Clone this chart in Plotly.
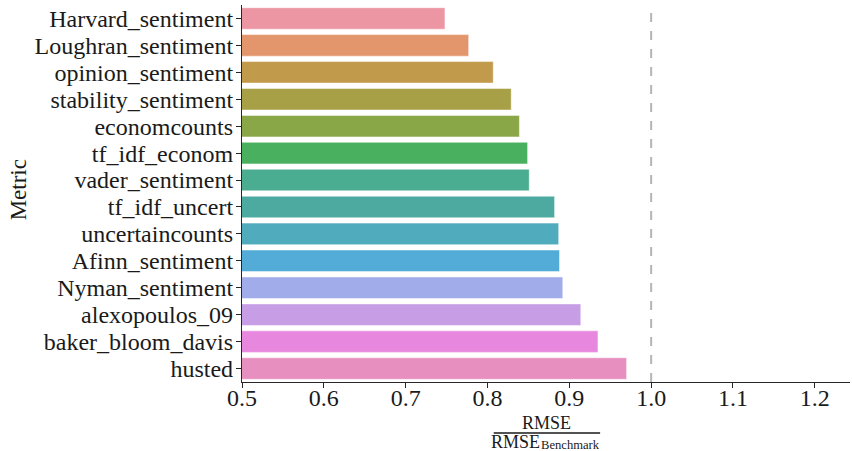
import plotly.graph_objects as go

metrics = ["Harvard_sentiment", "Loughran_sentiment", "opinion_sentiment", "stability_sentiment",
           "economcounts", "tf_idf_econom", "vader_sentiment", "tf_idf_uncert", "uncertaincounts",
           "Afinn_sentiment", "Nyman_sentiment", "alexopoulos_09", "baker_bloom_davis", "husted"]
rmse_ratio = [0.748, 0.777, 0.807, 0.829, 0.839, 0.849, 0.851, 0.882, 0.887, 0.888, 0.892, 0.914, 0.935, 0.970]
colors = ["#EC96A4", "#E3956C", "#C19A4B", "#A7A046", "#8AA748", "#48B05E", "#4AAD91", "#4CAAA0",
          "#50ABBC", "#53ABD7", "#A1ACEA", "#C79EE6", "#E788DE", "#E78FBE"]
x_ticks = [0.5, 0.6, 0.7, 0.8, 0.9, 1.0, 1.1, 1.2]
benchmark = 1.0

FONT = "Liberation Serif"
TXT = "#1a1a1a"

fig = go.Figure()
fig.add_trace(go.Bar(
    x=rmse_ratio, y=metrics, orientation="h",
    marker=dict(color=colors, line=dict(color="rgba(255,255,255,0.6)", width=0.8)),
    width=0.8, showlegend=False,
))

fig.add_shape(type="line", xref="x", yref="paper", x0=benchmark, x1=benchmark, y0=0, y1=1,
              line=dict(color="#b5b5b5", width=2, dash="dash"), layer="below")

fig.update_layout(
    width=852, height=451,
    margin=dict(l=242, r=2, t=5, b=69),
    plot_bgcolor="white", paper_bgcolor="white",
    font=dict(family=FONT, color=TXT, size=24),
    xaxis=dict(range=[0.5, 1.243], tickmode="array", tickvals=x_ticks,
               ticktext=[f"{v:.1f}" for v in x_ticks], automargin=False,
               showline=True, linecolor="#262626", linewidth=1.2,
               ticks="outside", ticklen=5, tickcolor="#262626", showgrid=False, zeroline=False,
               ticklabelstandoff=-11,
               tickfont=dict(size=24, family=FONT, color=TXT)),
    yaxis=dict(type="category", tickmode="array", tickvals=metrics, ticktext=metrics,
               categoryorder="array", categoryarray=metrics, range=[13.5, -0.5], automargin=False,
               showline=True, linecolor="#262626", linewidth=1.2,
               ticks="outside", ticklen=5, tickcolor="#262626", showgrid=False,
               ticklabelstandoff=-2,
               tickfont=dict(size=24, family=FONT, color=TXT)),
)

# y-axis title
fig.add_annotation(text="Metric", xref="paper", yref="paper", x=-0.368, y=0.509, textangle=-90,
                   showarrow=False, xanchor="center", yanchor="middle",
                   font=dict(size=23, family=FONT, color=TXT))

# x-axis label as a fraction: RMSE / RMSE_Benchmark
fig.add_annotation(text="RMSE", xref="paper", yref="paper", x=0.5, y=-0.109, showarrow=False,
                   xanchor="center", yanchor="middle", font=dict(size=18, family=FONT, color=TXT))
fig.add_annotation(text="RMSE", xref="paper", yref="paper", x=0.4934, y=-0.1592,
                   showarrow=False, xanchor="right", yanchor="middle",
                   font=dict(size=18, family=FONT, color=TXT))
fig.add_annotation(text="Benchmark", xref="paper", yref="paper", x=0.4885, y=-0.1671,
                   showarrow=False, xanchor="left", yanchor="middle",
                   font=dict(size=12.6, family=FONT, color=TXT))
fig.add_shape(type="line", xref="paper", yref="paper", x0=0.414, x1=0.589, y0=-0.135, y1=-0.135,
              line=dict(color=TXT, width=1.5))

fig.write_html("out.html", config={"displayModeBar": False},
               post_script="document.body.style.margin='0';")
